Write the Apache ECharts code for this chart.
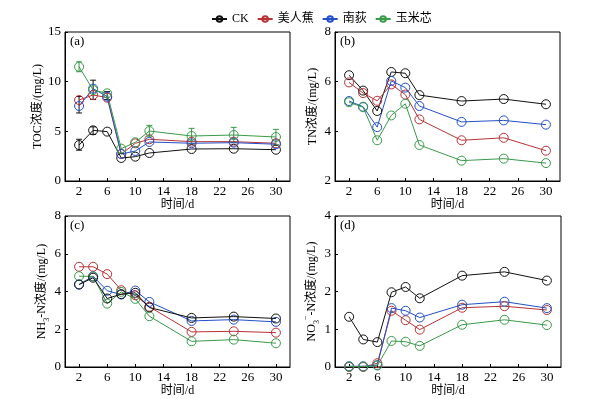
<!DOCTYPE html>
<html><head><meta charset="utf-8">
<script src="https://cdn.jsdelivr.net/npm/echarts@6/dist/echarts.min.js"></script>
<style>html,body{margin:0;padding:0;background:#fff}#c{width:595px;height:399px}</style>
</head><body><div id="c"></div>
<script>
const days = [2, 4, 6, 8, 10, 12, 18, 24, 30];
const xTicks = [2, 6, 10, 14, 18, 22, 26, 30];
const seriesNames = ['CK', '美人蕉', '南荻', '玉米芯'];

// (a) TOC
const tocCK    = [3.62, 5.10, 4.97, 2.32, 2.45, 2.82, 3.22, 3.25, 3.15];
const tocMRJ   = [8.15, 8.66, 8.39, 2.72, 3.79, 4.20, 3.96, 3.96, 3.80];
const tocND    = [7.55, 9.30, 8.50, 2.72, 3.02, 3.93, 3.80, 3.86, 3.70];
const tocYMX   = [11.50, 9.16, 8.83, 3.26, 3.90, 5.03, 4.53, 4.63, 4.43];
// error bars [day, low, high]
const tocErrCK   = [[2, 3.10, 4.20], [4, 4.70, 5.45]];
const tocErrDark = [[2, 6.85, 8.50], [4, 8.20, 10.15], [6, 8.20, 9.00]];
const tocErrYMX  = [[2, 11.00, 12.00], [12, 4.45, 5.60], [18, 3.76, 5.30], [24, 3.86, 5.40], [30, 3.66, 5.20]];

// (b) TN
const tnCK  = [6.26, 5.64, 4.82, 6.39, 6.34, 5.46, 5.22, 5.30, 5.09];
const tnMRJ = [5.97, 5.54, 5.23, 5.89, 5.48, 4.48, 3.64, 3.74, 3.22];
const tnND  = [5.22, 4.99, 4.17, 6.03, 5.76, 5.02, 4.38, 4.44, 4.27];
const tnYMX = [5.17, 4.97, 3.64, 4.64, 5.11, 3.45, 2.82, 2.90, 2.72];

// (c) NH3-N
const nhCK  = [4.37, 4.73, 3.63, 3.86, 3.93, 3.15, 2.60, 2.67, 2.57];
const nhMRJ = [5.31, 5.31, 4.92, 4.07, 3.80, 3.19, 1.86, 1.89, 1.82];
const nhND  = [4.37, 4.81, 4.04, 3.84, 4.05, 3.45, 2.44, 2.51, 2.39];
const nhYMX = [4.81, 4.80, 3.36, 3.98, 3.61, 2.69, 1.36, 1.45, 1.26];

// (d) NO3--N
const noCK  = [1.33, 0.73, 0.66, 1.98, 2.12, 1.82, 2.42, 2.52, 2.29];
const noMRJ = [0.00, 0.00, 0.10, 1.49, 1.24, 0.99, 1.57, 1.61, 1.51];
const noND  = [0.02, 0.02, 0.05, 1.56, 1.49, 1.31, 1.65, 1.73, 1.56];
const noYMX = [0.01, 0.01, 0.04, 0.69, 0.67, 0.56, 1.12, 1.25, 1.11];

const colors = ['#111111', '#b83236', '#2350c8', '#3a9a4a'];
const FONT = "'Liberation Serif','Times New Roman','Noto Sans CJK SC',serif";

const grids = [
  {left: 65, top: 32, width: 225, height: 149},
  {left: 335, top: 32, width: 225, height: 149},
  {left: 65, top: 216, width: 225, height: 151},
  {left: 335, top: 216, width: 226, height: 151}
].map(g => Object.assign(g, {show: true, borderColor: '#000', borderWidth: 1, backgroundColor: 'transparent'}));

const xAxes = grids.map((g, i) => ({
  type: 'value', gridIndex: i, min: 0, max: 32,
  name: '时间/d', nameLocation: 'middle', nameGap: 17,
  nameTextStyle: {fontFamily: FONT, fontSize: 12, color: '#000'},
  axisLine: {show: true, lineStyle: {color: '#000', width: 1}},
  axisTick: {show: true, inside: true, length: 3, customValues: xTicks, lineStyle: {color: '#000'}},
  axisLabel: {customValues: xTicks, fontFamily: FONT, fontSize: 13, color: '#000', margin: 4},
  splitLine: {show: false}
}));

const yNameRich = {
  sub: {fontFamily: FONT, fontSize: 8, verticalAlign: 'bottom', padding: [0, 0, -3, 0], color: '#000'},
  sup: {fontFamily: FONT, fontSize: 8, verticalAlign: 'top', padding: [-4, 0, 0, 0], color: '#000'}
};
const yCfg = [
  {min: 0, max: 15, interval: 5, name: 'TOC浓度/(mg/L)', gap: 13},
  {min: 2, max: 8, interval: 2, name: 'TN浓度/(mg/L)', gap: 16},
  {min: 0, max: 8, interval: 2, name: 'NH{sub|3}-N浓度/(mg/L)', gap: 10},
  {min: 0, max: 4, interval: 1, name: 'NO{sub|3}{sup|−}-N浓度/(mg/L)', gap: 13}
];
const yAxes = yCfg.map((c, i) => ({
  type: 'value', gridIndex: i, min: c.min, max: c.max, interval: c.interval,
  name: c.name, nameLocation: 'middle', nameGap: c.gap, nameRotate: 90,
  nameTextStyle: {fontFamily: FONT, fontSize: 12, color: '#000', rich: yNameRich},
  axisLine: {show: true, lineStyle: {color: '#000', width: 1}},
  axisTick: {show: true, inside: true, length: 3, lineStyle: {color: '#000'}},
  axisLabel: {fontFamily: FONT, fontSize: 13, color: '#000', margin: 4},
  splitLine: {show: false}
}));

const panels = [
  [tocCK, tocMRJ, tocND, tocYMX],
  [tnCK, tnMRJ, tnND, tnYMX],
  [nhCK, nhMRJ, nhND, nhYMX],
  [noCK, noMRJ, noND, noYMX]
];

const series = [];
function errSeries(data, color, gi) {
  return {
    type: 'custom', xAxisIndex: gi, yAxisIndex: gi, z: 1, silent: true,
    data: data,
    renderItem: function (params, api) {
      const x = api.value(0);
      const lo = api.coord([x, api.value(1)]);
      const hi = api.coord([x, api.value(2)]);
      const w = 3;
      const st = {stroke: color, lineWidth: 1};
      return {type: 'group', children: [
        {type: 'line', shape: {x1: lo[0], y1: lo[1], x2: hi[0], y2: hi[1]}, style: st},
        {type: 'line', shape: {x1: lo[0] - w, y1: lo[1], x2: lo[0] + w, y2: lo[1]}, style: st},
        {type: 'line', shape: {x1: hi[0] - w, y1: hi[1], x2: hi[0] + w, y2: hi[1]}, style: st}
      ]};
    }
  };
}
series.push(errSeries(tocErrCK, colors[0], 0));
series.push(errSeries(tocErrDark, colors[0], 0));
series.push(errSeries(tocErrYMX, colors[3], 0));

panels.forEach((p, gi) => {
  p.forEach((vals, si) => {
    series.push({
      type: 'line', name: seriesNames[si], xAxisIndex: gi, yAxisIndex: gi,
      data: days.map((d, k) => [d, vals[k]]),
      symbol: 'circle', symbolSize: 9,
      color: colors[si],
      lineStyle: {color: colors[si], width: 1},
      itemStyle: {color: 'rgba(255,255,255,0)', borderColor: colors[si], borderWidth: 1},
      z: gi === 2 && si === 0 ? 5 : 2,
      animation: false
    });
  });
});

const labels = ['(a)', '(b)', '(c)', '(d)'];
const graphic = grids.map((g, i) => ({
  type: 'text', left: g.left + 5, top: g.top + 3,
  style: {text: labels[i], font: '13px ' + FONT, fill: '#000'}
}));

const chart = echarts.init(document.getElementById('c'));
chart.setOption({
  animation: false,
  backgroundColor: '#fff',
  legend: {
    data: seriesNames, top: 8, left: 206, itemGap: 8, itemWidth: 15, itemHeight: 7,
    textStyle: {fontFamily: FONT, fontSize: 12, color: '#000'}
  },
  grid: grids, xAxis: xAxes, yAxis: yAxes, series: series, graphic: graphic
});
</script></body></html>
